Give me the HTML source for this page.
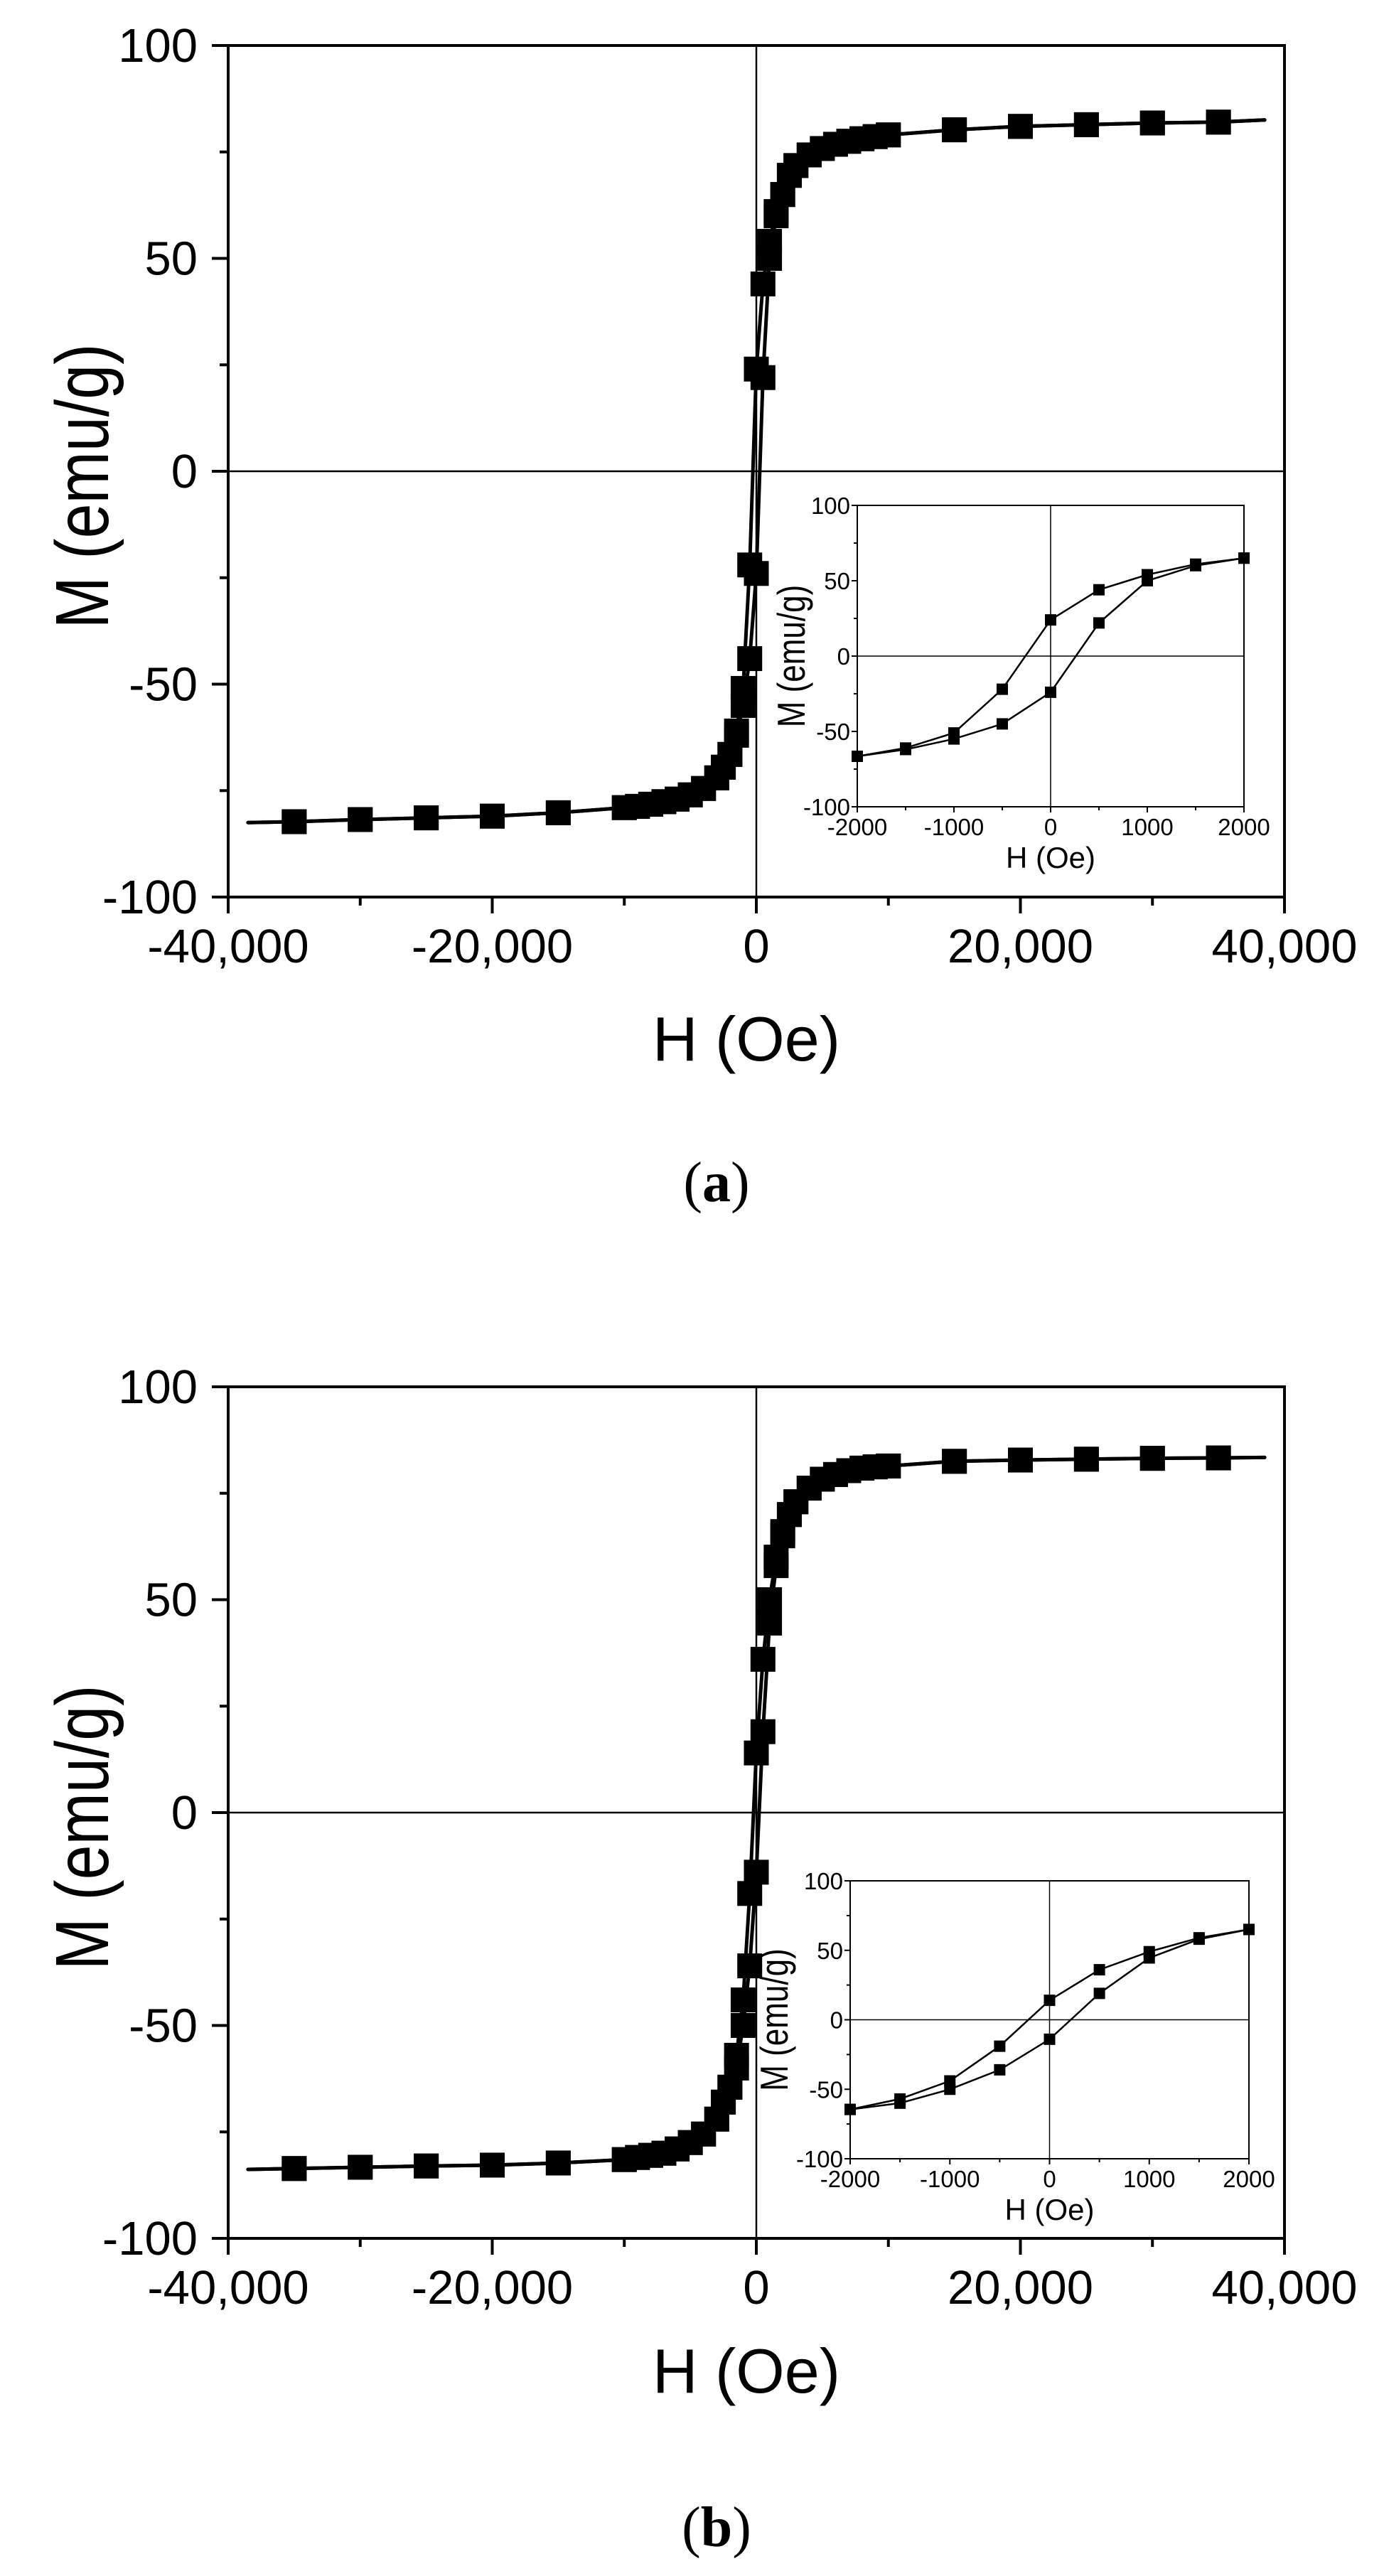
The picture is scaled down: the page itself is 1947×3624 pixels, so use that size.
<!DOCTYPE html>
<html><head><meta charset="utf-8"><style>
html,body{margin:0;padding:0;background:#fff;}
svg{display:block;}
text{font-family:"Liberation Sans",Arial,sans-serif;fill:#000;}
</style></head><body>
<svg id="fig" width="1947" height="3624" viewBox="0 0 1947 3624" xmlns="http://www.w3.org/2000/svg">
<rect x="0" y="0" width="1947" height="3624" fill="#fff"/>
</svg>
<script>
// ---- shared main-plot field values ----
const mainH = [35000,30000,25000,20000,15000,10000,9000,8000,7000,6000,5000,4000,3000,2500,2000,1500,1000,500,0,-500,-1000,-1500,-2000,-2500,-3000,-4000,-5000,-6000,-7000,-8000,-9000,-10000,-15000,-20000,-25000,-30000,-35000];
const lineEndH = [38500,-38500];
// ---- panel (a) ----
const aDesc = [82,81.8,81.4,81,80.2,79,78.6,78.1,77.5,76.8,75.8,74.3,71.8,69.5,65,61,54,44,24,-22,-51,-61,-66.5,-69.5,-72,-74.5,-76,-77,-77.6,-78.2,-78.7,-79,-80.2,-81,-81.4,-81.8,-82.3];
const aAsc  = [82,81.8,81.4,81,80.2,79,78.6,78.1,77.5,76.8,75.8,74.3,71.8,69.5,65,60,50,22,-24,-44,-55,-62,-66.5,-69.5,-72,-74.5,-76,-77,-77.6,-78.2,-78.7,-79,-80.2,-81,-81.4,-81.8,-82.3];
const aLineEndM = [82.5,-82.5];
// ---- panel (b) ----
const bDesc = [83.3,83.2,83,82.8,82.5,81.4,81.2,80.9,80.3,79.4,78.3,76.2,73,70,66,60,50,36,14,-19,-44,-57,-64.5,-68,-72,-75.5,-77.5,-79,-80,-80.5,-81,-81.5,-82.3,-82.8,-83,-83.3,-83.6];
const bAsc  = [83.3,83.2,83,82.8,82.5,81.4,81.2,80.9,80.3,79.4,78.3,76.2,73,70,65,58,44.5,19,-14,-36,-50,-60,-64.5,-68,-72,-75.5,-77.5,-79,-80,-80.5,-81,-81.5,-82.3,-82.8,-83,-83.3,-83.6];
const bLineEndM = [83.4,-83.8];
// ---- insets ----
const insetHDesc = [2000,1500,1000,500,0,-500,-1000,-1500,-2000];
const insetHAsc = [-2000,-1500,-1000,-500,0,500,1000,1500,2000];
const aInsetDesc = [65,61,54,44,24,-22,-51,-61,-66.5];
const aInsetAsc = [-66.5,-62,-55,-45,-24,22,50,60,65];
const bInsetDesc = [65,59,49,36,14,-19,-44,-57,-64.5];
const bInsetAsc = [-64.5,-60,-50,-36,-14,19,44.5,58,65];
// ---- ticks ----
const mainXMajor = [-40000,-20000,0,20000,40000];
const mainXLabels = ["-40,000","-20,000","0","20,000","40,000"];
const mainXMinor = [-30000,-10000,10000,30000];
const yMajor = [100,50,0,-50,-100];
const yLabels = ["100","50","0","-50","-100"];
const yMinor = [75,25,-25,-75];
const insetXMajor = [-2000,-1000,0,1000,2000];
const insetXLabels = ["-2000","-1000","0","1000","2000"];
const insetXMinor = [-1500,-500,500,1500];

const NS = "http://www.w3.org/2000/svg";
const svg = document.getElementById('fig');
function mk(tag, attrs, parent){
  const e = document.createElementNS(NS, tag);
  for (const k in attrs) e.setAttribute(k, attrs[k]);
  (parent||svg).appendChild(e);
  return e;
}
function txt(str, attrs, parent){ const t = mk('text', attrs, parent); t.textContent = str; return t; }

function axes(x0,x1,y0,y1,xmin,xmax){
  const sx = v => x0 + (v - xmin) / (xmax - xmin) * (x1 - x0);
  const sy = v => y1 - (v + 100) / 200 * (y1 - y0);
  return {sx, sy};
}

function drawPanel(p){
  const g = mk('g', {});
  
  
  const {sx, sy} = axes(p.x0,p.x1,p.y0,p.y1,-40000,40000);
  const zl = mk('line',{x1:sx(0),x2:sx(0),y1:p.y0,y2:p.y1,stroke:'#000','stroke-width':2.5},g);
  
  
  const zl2 = mk('line',{x1:p.x0,x2:p.x1,y1:sy(0),y2:sy(0),stroke:'#000','stroke-width':2.5},g);
  
  
  const fr = mk('rect',{x:p.x0,y:p.y0,width:p.x1-p.x0,height:p.y1-p.y0,fill:'none',stroke:'#000','stroke-width':4},g);
  
  
  mainXMajor.forEach((v,i)=>{
    mk('line',{x1:sx(v),x2:sx(v),y1:p.y1,y2:p.y1+23,stroke:'#000','stroke-width':4},g);
    const t = txt(mainXLabels[i],{x:sx(v),y:p.y1+92,'font-size':67,'text-anchor':'middle'},g);
    
    
  });
  mainXMinor.forEach(v=>mk('line',{x1:sx(v),x2:sx(v),y1:p.y1,y2:p.y1+12,stroke:'#000','stroke-width':4},g));
  yMajor.forEach((v,i)=>{
    mk('line',{x1:p.x0-23,x2:p.x0,y1:sy(v),y2:sy(v),stroke:'#000','stroke-width':4},g);
    const t = txt(yLabels[i],{x:p.x0-43,y:sy(v)+23,'font-size':67,'text-anchor':'end'},g);
    
    
  });
  yMinor.forEach(v=>mk('line',{x1:p.x0-12,x2:p.x0,y1:sy(v),y2:sy(v),stroke:'#000','stroke-width':4},g));
  const xt = txt('H (Oe)',{x:1050,y:p.xTitleY,'font-size':88,'text-anchor':'middle'},g);
  
  
  const yt = txt('M (emu/g)',{x:0,y:0,'font-size':88,'text-anchor':'middle',transform:`translate(${121+31},${p.y0+620}) rotate(-90) scale(1,1.2)`},g);
  
  
  const dpts = [[lineEndH[0],p.endM[0]]].concat(mainH.map((h,i)=>[h,p.desc[i]])).concat([[lineEndH[1],p.endM[1]]]);
  const apts = [[lineEndH[1],p.endM[1]]].concat(mainH.map((h,i)=>[h,p.asc[i]]).reverse()).concat([[lineEndH[0],p.endM[0]]]);
  [['descending-branch-line',dpts],['ascending-branch-line',apts]].forEach(([nm,pts])=>{
    const pl = mk('polyline',{points:pts.map(q=>sx(q[0]).toFixed(1)+','+sy(q[1]).toFixed(1)).join(' '),fill:'none',stroke:'#000','stroke-width':5,'stroke-linejoin':'round','stroke-linecap':'round'},g);
    
    
  });
  const s = 35;
  mainH.forEach((h,i)=>{
    [p.desc[i],p.asc[i]].forEach(m=>{
      const r = mk('rect',{x:sx(h)-s/2,y:sy(m)-s/2,width:s,height:s,fill:'#000'},g);
      
      
    });
  });
  const cap = mk('text',{x:1008,y:p.capY,'font-size':80,'text-anchor':'middle',style:'font-family:"Liberation Serif",serif'},g);
  
  
  cap.appendChild(document.createTextNode('('));
  const b = mk('tspan',{'font-weight':'bold'},cap); b.textContent = p.letter;
  cap.appendChild(document.createTextNode(')'));
  drawInset(p.inset);
}

function drawInset(q){
  const g = mk('g', {});
  
  
  const {sx, sy} = axes(q.x0,q.x1,q.y0,q.y1,-2000,2000);
  mk('rect',{x:q.x0,y:q.y0,width:q.x1-q.x0,height:q.y1-q.y0,fill:'#fff',stroke:'none'},g);
  mk('line',{x1:sx(0),x2:sx(0),y1:q.y0,y2:q.y1,stroke:'#000','stroke-width':1.5},g);
  mk('line',{x1:q.x0,x2:q.x1,y1:sy(0),y2:sy(0),stroke:'#000','stroke-width':1.5},g);
  const fr = mk('rect',{x:q.x0,y:q.y0,width:q.x1-q.x0,height:q.y1-q.y0,fill:'none',stroke:'#000','stroke-width':2},g);
  
  
  insetXMajor.forEach((v,i)=>{
    mk('line',{x1:sx(v),x2:sx(v),y1:q.y1,y2:q.y1+8,stroke:'#000','stroke-width':2},g);
    const t = txt(insetXLabels[i],{x:sx(v),y:q.y1+40,'font-size':33,'text-anchor':'middle'},g);
    
    
  });
  insetXMinor.forEach(v=>mk('line',{x1:sx(v),x2:sx(v),y1:q.y1,y2:q.y1+5,stroke:'#000','stroke-width':2},g));
  yMajor.forEach((v,i)=>{
    mk('line',{x1:q.x0-8,x2:q.x0,y1:sy(v),y2:sy(v),stroke:'#000','stroke-width':2},g);
    const t = txt(yLabels[i],{x:q.x0-10,y:sy(v)+12,'font-size':33,'text-anchor':'end'},g);
    
    
  });
  yMinor.forEach(v=>mk('line',{x1:q.x0-5,x2:q.x0,y1:sy(v),y2:sy(v),stroke:'#000','stroke-width':2},g));
  const xt = txt('H (Oe)',{x:(q.x0+q.x1)/2,y:q.y1+86,'font-size':42,'text-anchor':'middle'},g);
  
  
  const yt = txt('M (emu/g)',{x:0,y:0,'font-size':44,'text-anchor':'middle',transform:`translate(${q.mx+16},${(q.y0+q.y1)/2}) rotate(-90) scale(1,1.25)`},g);
  
  
  [['inset-descending-line',insetHDesc,q.desc],['inset-ascending-line',insetHAsc,q.asc]].forEach(([nm,hs,ms])=>{
    const pl = mk('polyline',{points:hs.map((h,i)=>sx(h).toFixed(1)+','+sy(ms[i]).toFixed(1)).join(' '),fill:'none',stroke:'#000','stroke-width':2.5},g);
    
    
  });
  const s = 16;
  [[insetHDesc,q.desc],[insetHAsc,q.asc]].forEach(([hs,ms])=>{
    hs.forEach((h,i)=>{
      const r = mk('rect',{x:sx(h)-s/2,y:sy(ms[i])-s/2,width:s,height:s,fill:'#000'},g);
      
      
    });
  });
}

drawPanel({name:'panel-a',x0:321,x1:1807,y0:64,y1:1262,desc:aDesc,asc:aAsc,endM:aLineEndM,xTitleY:1492,capY:1690,letter:'a',
  inset:{name:'inset-a',x0:1206,x1:1750,y0:711,y1:1135,desc:aInsetDesc,asc:aInsetAsc,mx:1116}});
drawPanel({name:'panel-b',x0:321,x1:1807,y0:1951,y1:3149,desc:bDesc,asc:bAsc,endM:bLineEndM,xTitleY:3366,capY:3582,letter:'b',
  inset:{name:'inset-b',x0:1196,x1:1757,y0:2646,y1:3037,desc:bInsetDesc,asc:bInsetAsc,mx:1092}});
</script>
</body></html>
